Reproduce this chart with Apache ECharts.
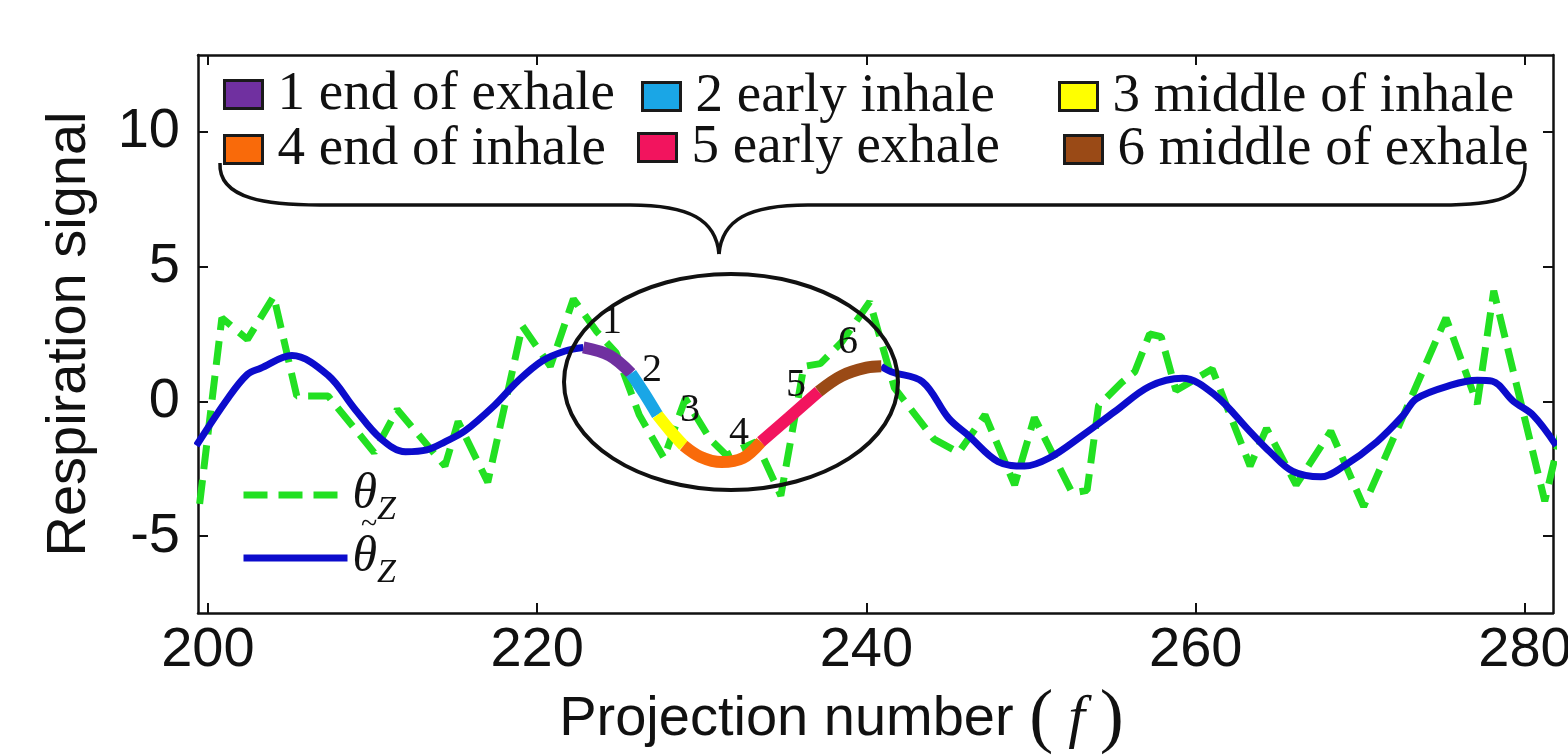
<!DOCTYPE html>
<html>
<head>
<meta charset="utf-8">
<script src="https://cdn.jsdelivr.net/npm/echarts@6/dist/echarts.min.js"></script>
<style>html,body{margin:0;padding:0;background:#fff}#chart{width:1568px;height:755px}</style>
</head>
<body>
<div id="chart"></div>
<script>
// raw respiration signal theta_z (dashed green), [projection, value]
var thetaZ = [
  [199.5,-3.8],[200.85,3.1],[202.4,2.3],[204.0,3.9],[205.4,0.2],[207.3,0.2],[210.1,-1.9],
  [211.5,-0.3],[214.4,-2.4],[215.2,-0.75],[217.0,-3.0],[219.1,2.8],[220.8,1.3],[222.2,3.8],
  [223.6,2.6],[224.8,1.8],[226.2,-0.5],[227.7,-2.1],[229.0,0.1],[230.5,-1.4],[231.5,-2.0],
  [233.3,-1.5],[234.8,-3.5],[236.2,1.3],[237.2,1.4],[238.5,2.2],[240.2,3.7],[241.7,0.5],
  [244.1,-1.4],[245.6,-1.9],[247.2,-0.5],[249.0,-3.1],[250.2,-0.6],[252.5,-3.4],[253.4,-3.3],
  [254.1,-0.15],[255.5,0.7],[256.3,1.1],[257.2,2.5],[257.9,2.4],[258.8,0.4],[261.0,1.2],
  [263.3,-2.4],[264.3,-1.0],[266.1,-3.1],[268.2,-1.1],[270.2,-3.9],[275.2,3.1],[277.1,-0.1],
  [278.1,4.1],[281.2,-3.7],[282.2,-1.1]
];
// smoothed signal, outside the highlighted cycle
var smoothBefore = [
  [199.3,-1.64],[201.2,0.1],[202.4,1.0],[203.2,1.23],[205.1,1.7],[207.3,0.97],[208.9,-0.26],
  [210.5,-1.38],[212.0,-1.87],[213.3,-1.8],[214.4,-1.5],[215.6,-1.1],[217.4,-0.15],[218.8,0.74],
  [220.3,1.5],[221.7,1.87],[222.8,2.0]
];
var smoothAfter = [
  [240.9,1.3],[241.5,1.1],[243.4,0.73],[245.0,-0.63],[246.2,-1.27],[248.0,-2.24],[249.6,-2.4],
  [251.1,-2.1],[253.1,-1.27],[255.1,-0.37],[257.2,0.56],[259.2,0.86],[261.2,0.22],[263.3,-1.12],
  [264.5,-1.87],[265.9,-2.6],[267.6,-2.8],[269.0,-2.4],[271.0,-1.5],[272.6,-0.52],[273.4,0.1],
  [275.5,0.6],[277.1,0.78],[278.0,0.75],[279.3,0],[280.5,-0.52],[281.9,-1.64]
];
// six breathing phases of the highlighted cycle
var phaseNames = ['1 end of exhale','2 early inhale','3 middle of inhale',
                  '4 end of inhale','5 early exhale','6 middle of exhale'];
var phaseColors = ['#7030a0','#1aa6e6','#ffff00','#f96a0a','#f2145e','#9a4a16'];
var phase1 = [[222.8,2.0],[224.4,1.7],[225.7,1.04]];
var phase2 = [[225.7,1.04],[226.5,0.3],[227.3,-0.5]];
var phase3 = [[227.3,-0.5],[228.1,-1.1],[228.9,-1.64]];
var phase4 = [[228.9,-1.64],[229.9,-2.05],[231.2,-2.25],[232.5,-2.1],[233.6,-1.5]];
var phase5 = [[233.6,-1.5],[235.3,-0.6],[237.1,0.37]];
var phase6 = [[237.1,0.37],[238.5,0.95],[240.0,1.25],[240.9,1.3]];
var phaseData = [phase1, phase2, phase3, phase4, phase5, phase6];
var xTicks = [200, 220, 240, 260, 280];
var yTicks = [-5, 0, 5, 10];

var chart = echarts.init(document.getElementById('chart'));
var sans = 'Liberation Sans';
var serif = 'Liberation Serif';

var series = [
  {name:'θz', type:'line', data:thetaZ, symbol:'none', z:2,
   itemStyle:{color:'#22e022'}, lineStyle:{color:'#22e022', width:7, type:[24,11]}},
  {name:'θ̃z', type:'line', data:smoothBefore, symbol:'none', smooth:0.35, z:3,
   itemStyle:{color:'#0c0ccc'}, lineStyle:{color:'#0c0ccc', width:7}},
  {name:'θ̃z', type:'line', data:smoothAfter, symbol:'none', smooth:0.35, z:3,
   itemStyle:{color:'#0c0ccc'}, lineStyle:{color:'#0c0ccc', width:7}}
];
phaseNames.forEach(function (n, i) {
  series.push({name:n, type:'line', data:phaseData[i], symbol:'none', smooth:0.35, z:4,
    itemStyle:{color:phaseColors[i]}, lineStyle:{color:phaseColors[i], width:12}});
});

// one legend per phase so the columns sit where the original put them
var legPos = [[223,67],[641,69],[1058,69],[223,122],[637,120],[1063,122]];
var legends = phaseNames.map(function (n, i) {
  return {data:[n], icon:'rect', left:legPos[i][0], top:legPos[i][1], itemWidth:38, itemHeight:28,
    padding:0, orient:'horizontal', selectedMode:false,
    itemStyle:{borderColor:'#1a1a1a', borderWidth:3},
    textStyle:{fontFamily:serif, fontSize:55, color:'#111', lineHeight:28,
      padding: i < 3 ? [0,0,8,10] : [24,0,0,10]}};
});
var thetaRich = {t:{fontFamily:serif, fontStyle:'italic', fontSize:50, color:'#111'},
                 s:{fontFamily:serif, fontStyle:'italic', fontSize:34, color:'#111', padding:[30,0,0,0]}};
legends.push({data:['θz'], left:240, top:470, itemWidth:104, itemHeight:18, padding:0, selectedMode:false,
  lineStyle:{width:7}, itemStyle:{opacity:0}, formatter:function(){ return '{t|θ}{s|Z}'; },
  textStyle:{rich:thetaRich}});
legends.push({data:['θ̃z'], left:240, top:533, itemWidth:104, itemHeight:18, padding:0, selectedMode:false,
  lineStyle:{width:7}, itemStyle:{opacity:0}, formatter:function(){ return '{t|θ}{s|Z}'; },
  textStyle:{rich:thetaRich}});

var axisLine = {show:true, onZero:false, lineStyle:{color:'#111', width:2.5}};
var tickStyle = {inside:true, length:10, lineStyle:{color:'#111', width:2}};

var option = {
  animation:false,
  backgroundColor:'#fff',
  grid:{left:198, right:15, top:55, bottom:142, outerBoundsMode:'none'},
  legend:legends,
  xAxis:[
    {type:'value', min:199.4, max:281.7, position:'bottom',
     axisLine:axisLine, splitLine:{show:false},
     axisTick:Object.assign({customValues:xTicks}, tickStyle),
     axisLabel:{customValues:xTicks, fontFamily:sans, fontSize:56, color:'#111', margin:10},
     name:'Projection number {p|(}{f| f }{p|)}', nameLocation:'middle', nameGap:58,
     nameTextStyle:{fontFamily:sans, fontSize:56, color:'#111', padding:[0,68,0,0],
       rich:{p:{fontFamily:serif, fontSize:72, color:'#111'},
             f:{fontFamily:serif, fontStyle:'italic', fontSize:60, color:'#111'}}}},
    {type:'value', min:199.4, max:281.7, position:'top',
     axisLine:axisLine, splitLine:{show:false},
     axisTick:Object.assign({customValues:xTicks}, tickStyle),
     axisLabel:{show:false}}
  ],
  yAxis:[
    {type:'value', min:-7.85, max:12.85, position:'left',
     axisLine:axisLine, splitLine:{show:false},
     axisTick:Object.assign({customValues:yTicks}, tickStyle),
     axisLabel:{customValues:yTicks, fontFamily:sans, fontSize:56, color:'#111', margin:18},
     name:'Respiration signal', nameLocation:'middle', nameGap:100, nameRotate:90,
     nameTextStyle:{fontFamily:sans, fontSize:56, color:'#111'}},
    {type:'value', min:-7.85, max:12.85, position:'right',
     axisLine:axisLine, splitLine:{show:false},
     axisTick:Object.assign({customValues:yTicks}, tickStyle),
     axisLabel:{show:false}}
  ],
  series:series,
  graphic:[
    // ellipse around the highlighted cycle
    {type:'ellipse', z:10, shape:{cx:731, cy:382, rx:167, ry:108},
     style:{fill:'none', stroke:'#111', lineWidth:4}},
    // curly brace from the legend down to the ellipse
    {type:'bezierCurve', z:10, shape:{x1:220, y1:163, cpx1:218, cpy1:200, cpx2:270, cpy2:205, x2:320, y2:205},
     style:{fill:'none', stroke:'#111', lineWidth:3.5}},
    {type:'line', z:10, shape:{x1:320, y1:205, x2:630, y2:205}, style:{stroke:'#111', lineWidth:3.5}},
    {type:'bezierCurve', z:10, shape:{x1:630, y1:205, cpx1:690, cpy1:205, cpx2:716, cpy2:220, x2:719, y2:254},
     style:{fill:'none', stroke:'#111', lineWidth:3.5}},
    {type:'bezierCurve', z:10, shape:{x1:719, y1:254, cpx1:722, cpy1:220, cpx2:748, cpy2:205, x2:808, y2:205},
     style:{fill:'none', stroke:'#111', lineWidth:3.5}},
    {type:'line', z:10, shape:{x1:808, y1:205, x2:1440, y2:205}, style:{stroke:'#111', lineWidth:3.5}},
    {type:'bezierCurve', z:10, shape:{x1:1440, y1:205, cpx1:1495, cpy1:205, cpx2:1526, cpy2:200, x2:1525, y2:163},
     style:{fill:'none', stroke:'#111', lineWidth:3.5}},
    // tilde over the smoothed-signal legend symbol
    {type:'text', z:10, x:369, y:525, style:{text:'~', font:'30px "Liberation Serif"', fill:'#111', align:'center', verticalAlign:'middle'}},
    // phase numbers
    {type:'text', z:10, x:612, y:322, style:{text:'1', font:'40px "Liberation Serif"', fill:'#111', align:'center', verticalAlign:'middle'}},
    {type:'text', z:10, x:652, y:370, style:{text:'2', font:'40px "Liberation Serif"', fill:'#111', align:'center', verticalAlign:'middle'}},
    {type:'text', z:10, x:690, y:410, style:{text:'3', font:'40px "Liberation Serif"', fill:'#111', align:'center', verticalAlign:'middle'}},
    {type:'text', z:10, x:739, y:433, style:{text:'4', font:'40px "Liberation Serif"', fill:'#111', align:'center', verticalAlign:'middle'}},
    {type:'text', z:10, x:796, y:385, style:{text:'5', font:'40px "Liberation Serif"', fill:'#111', align:'center', verticalAlign:'middle'}},
    {type:'text', z:10, x:848, y:342, style:{text:'6', font:'40px "Liberation Serif"', fill:'#111', align:'center', verticalAlign:'middle'}}
  ]
};
chart.setOption(option);
</script>
</body>
</html>
